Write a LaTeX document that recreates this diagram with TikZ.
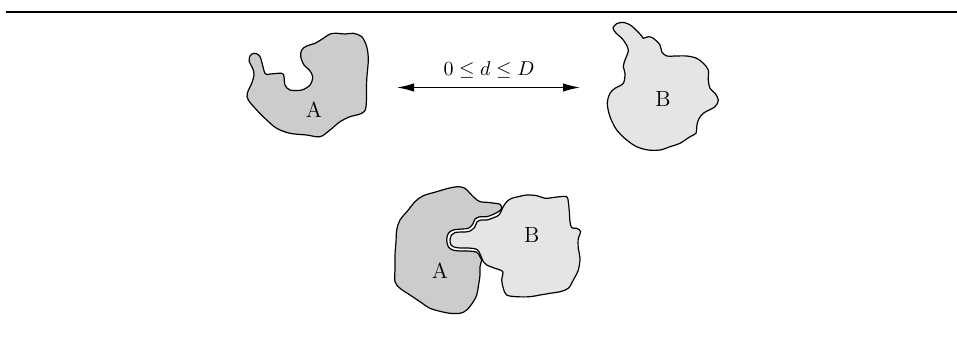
\documentclass[tikz,border=0pt]{standalone}
\usetikzlibrary{arrows.meta}
\begin{document}
\begin{tikzpicture}[x=0.5pt,y=-0.5pt,
  blobA/.style={draw=black,line width=0.6pt,fill=black!20},
  blobB/.style={draw=black,line width=0.6pt,fill=black!10},
  rule/.style={line width=1.1pt},
  gap/.style={{Latex[length=8.5pt,width=4.2pt]}-{Latex[length=8.5pt,width=4.2pt]},line width=0.6pt},
  tag/.style={inner sep=0pt,font=\fontsize{11}{13}\selectfont}]
\useasboundingbox (0,0) rectangle (957,349);

% top rule
\coordinate (ruleL) at (6,12);
\coordinate (ruleR) at (957,12);
\draw[rule] (ruleL) -- (ruleR);

% separate body A
\draw[blobA] plot[smooth cycle,tension=0.55] coordinates {
 (254,53.3) (260,56.7) (265,73.3) (270,74) (281.7,73.3) (284,76.7) (285,85)
 (290,90) (301.7,90) (310,85) (312.7,76.7) (309.3,70) (304,65) (300.7,56.7)
 (301.7,50) (306.7,46) (315,43.3) (323.3,38.3) (330,34) (336.7,33.3) (345,34)
 (353.3,33.3) (361.7,36.7) (366.7,46.7) (368.3,60) (366.7,80) (366,106.7)
 (361.7,113.3) (350,116.7) (340,121.7) (330,130) (320,136.7) (306.7,135)
 (290,133.3) (276.7,128.3) (266.7,120) (256.7,110) (248.3,100) (247.3,93.3)
 (251.7,83.3) (254,75) (252.7,68.3) (249.3,61.7) (250,56)};
\node[tag] (labA) at (314,110) {A};

% separate body B
\draw[blobB] plot[smooth cycle,tension=0.55] coordinates {
 (617,23.5) (624,22.5) (631,25.5) (636,30) (641.7,36) (643.3,38.3)
 (648.3,36.7) (653.3,38.3) (660,45) (661.7,51.7) (666.7,56) (675,56)
 (686.7,56) (696.7,58.3) (703.3,63.3) (708.3,70) (708.3,80) (710,88.3)
 (715,93.3) (718.3,100) (715,106.7) (703.3,113.3) (698.3,120) (696.7,126.7)
 (696,133.3) (690,136.7) (680,143.3) (670,146.7) (660,150) (648.3,150)
 (636.7,146.7) (626.7,140) (616.7,130) (610,116.7) (607.3,103.3) (610,93.3)
 (615,88.3) (623.3,83.3) (625,73.3) (623.3,66.7) (625,60) (628.3,50)
 (623.3,40) (616,33) (613,28)};
\node[tag] (labB) at (663,99) {B};

% distance arrow
\coordinate (arrL) at (397,87.5);
\coordinate (arrR) at (580,87.5);
\draw[gap] (arrL) -- (arrR);
\node[inner sep=0pt] (dist) at (489,70) {$0\le d\le D$};

% interlocked pair: B
\draw[blobB] plot[smooth cycle,tension=0.55] coordinates {
 (503.3,206.7) (506.7,201.7) (511.7,198.3) (518.3,196.7) (526.7,195)
 (536.7,195.7) (545,198.3) (551.7,197.7) (560,196.7) (566.7,196.7)
 (568.3,201.7) (569.3,211.7) (570,221.7) (571.7,227.7) (576.7,228.3)
 (580.7,231.7) (578.3,238.3) (578.3,248.3) (580,258.3) (578.3,270)
 (573.3,280) (568.3,288.3) (560,291.7) (550,293.3) (540,295) (530,296.7)
 (516.7,296.7) (506.7,295) (503.3,288.3) (501.7,280) (502.7,271.7)
 (495,268.3) (486.7,265) (483.3,261.7) (480.5,255) (477,249.5) (468.5,248)
 (460,248) (454,247) (451,245) (450,240) (451.5,235) (455,232.5) (462,232)
 (469,231.5) (474.5,227.5) (477,222) (481,220) (487,220) (494,217.5)
 (499,215)};

% interlocked pair: A
\draw[blobA] plot[smooth cycle,tension=0.55] coordinates {
 (458.3,186.7) (448.3,188.3) (436.7,191.7) (423.3,195.7) (415,201.7)
 (408.3,210) (400,220) (396.7,230) (396,241.7) (395,255) (395,268.3)
 (395,281.7) (400,288.3) (410,295) (420,301.7) (430,308.3) (441.7,311.7)
 (450,313.3) (460,313.3) (466.7,310) (473.3,301.7) (476.7,295) (478.3,286.7)
 (480,275) (480,266.7) (481.7,260) (480,256.7) (476.7,252.3) (468.3,251)
 (460,251) (452.7,250) (448.3,246.7) (446.7,240) (448.3,233.3) (453.3,230)
 (461.7,229) (468.3,228.3) (472.7,224.3) (475,219) (480,216.7) (486.7,216.7)
 (493.3,214.3) (498.3,211.7) (501.7,208.3) (500,204.3) (495,203.3)
 (486.7,202.3) (480,201.7) (475,198.3) (470,193.3) (465,188.3)};
\node[tag] (labA2) at (440,271) {A};
\node[tag] (labB2) at (531.7,235) {B};
\end{tikzpicture}
\end{document}
